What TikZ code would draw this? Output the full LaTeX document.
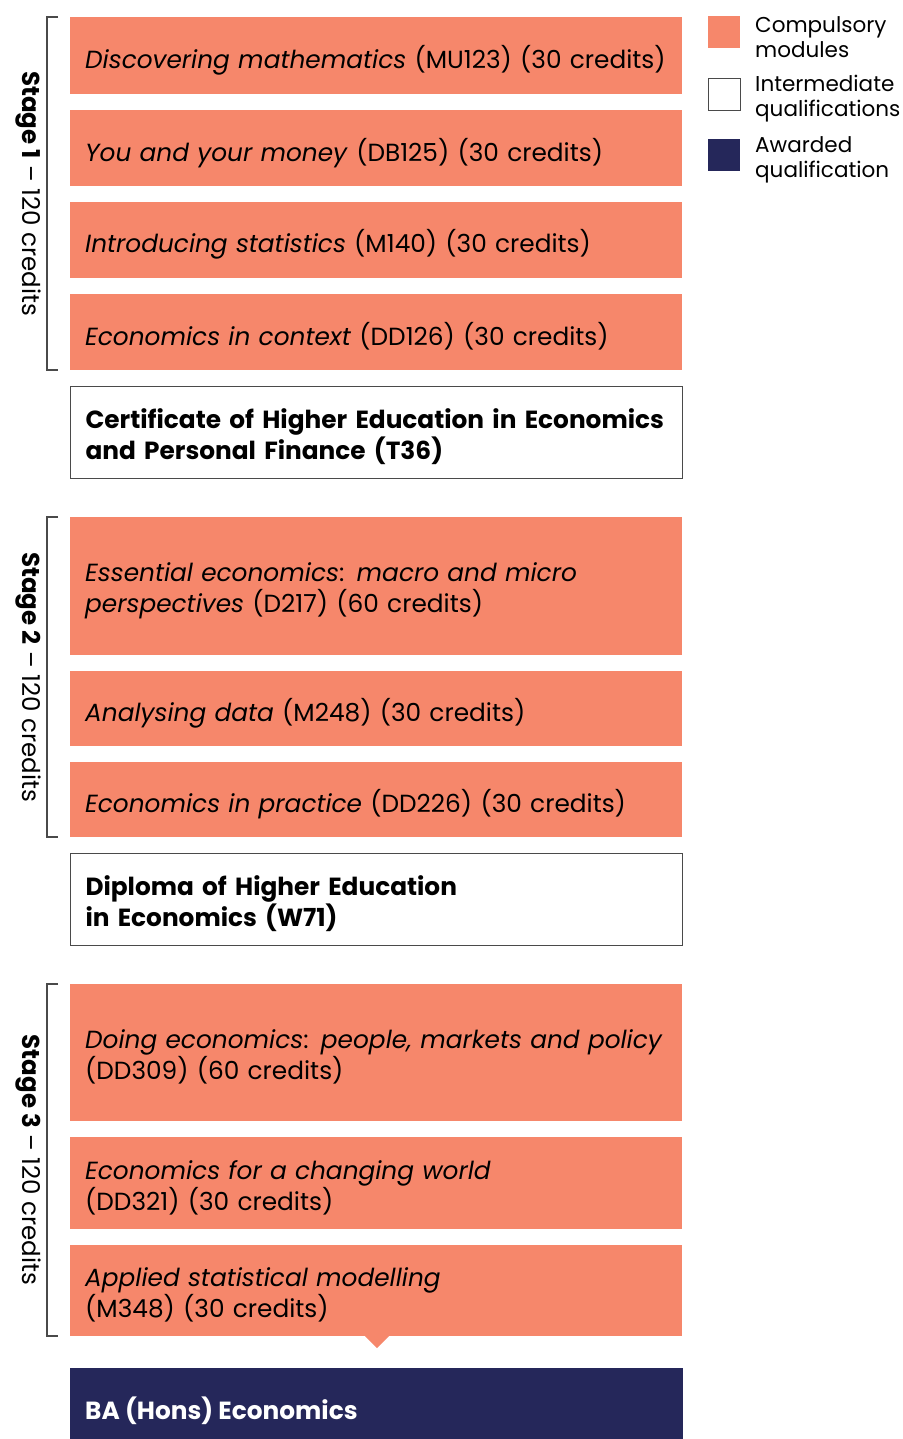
\documentclass[tikz,border=0pt]{standalone}
\usepackage{fontspec}
\setmainfont{Poppins}[BoldFont={Poppins Bold}, BoldItalicFont={Poppins Bold Italic}]
\definecolor{comp}{HTML}{F6876B}
\definecolor{award}{HTML}{25275A}
\definecolor{frame}{HTML}{4A4A4A}
\begin{document}
\begin{tikzpicture}[x=1pt,y=-1pt,
  modbox/.style={fill=comp, draw=none, rectangle, minimum width=612pt, inner sep=0pt, anchor=north west},
  qualbox/.style={fill=white, draw=frame, line width=1pt, rectangle, minimum width=612pt, inner sep=0pt, anchor=north west},
  boxtext/.style={text width=582pt, inner sep=0pt, align=left, font=\fontsize{24.8}{31}\selectfont, anchor=center, yshift=-4.5pt},
  qualtext/.style={boxtext, font=\fontsize{24.8}{31}\selectfont\bfseries},
  bracket/.style={draw=frame, line width=1.2pt},
  stagelbl/.style={rotate=-90, font=\fontsize{24.5}{28}\selectfont, anchor=center},
  legsq/.style={minimum width=32pt, minimum height=32pt, inner sep=0pt, anchor=north west},
  legtxt/.style={font=\fontsize{21.5}{25}\selectfont, align=left, anchor=west, inner sep=0pt}
]
\useasboundingbox (0,0) rectangle (902,1439);
% Stage 1
\node[modbox, minimum height=77pt] (b1) at (70,17) {};
\node[boxtext] (t-b1) at (b1.center) {\textit{Discovering mathematics} (MU123) (30 credits)};
\node[modbox, minimum height=76pt] (b2) at (70,110) {};
\node[boxtext] (t-b2) at (b2.center) {\textit{You and your money} (DB125) (30 credits)};
\node[modbox, minimum height=76pt] (b3) at (70,202) {};
\node[boxtext] (t-b3) at (b3.center) {\textit{Introducing statistics} (M140) (30 credits)};
\node[modbox, minimum height=76pt] (b4) at (70,294) {};
\node[boxtext] (t-b4) at (b4.center) {\textit{Economics in context} (DD126) (30 credits)};
\node[qualbox, minimum height=92pt] (cert) at (70,386) {};
\node[qualtext] (t-cert) at (cert.center) {Certificate of Higher Education in Economics\\and Personal Finance (T36)};
% Stage 2
\node[modbox, minimum height=138pt] (b5) at (70,517) {};
\node[boxtext] (t-b5) at (b5.center) {\textit{Essential economics}: \textit{macro and micro}\\\textit{perspectives} (D217) (60 credits)};
\node[modbox, minimum height=75pt] (b6) at (70,671) {};
\node[boxtext] (t-b6) at (b6.center) {\textit{Analysing data} (M248) (30 credits)};
\node[modbox, minimum height=75pt] (b7) at (70,762) {};
\node[boxtext] (t-b7) at (b7.center) {\textit{Economics in practice} (DD226) (30 credits)};
\node[qualbox, minimum height=92pt] (dipl) at (70,853) {};
\node[qualtext] (t-dipl) at (dipl.center) {Diploma of Higher Education\\in Economics (W71)};
% Stage 3
\node[modbox, minimum height=137pt] (b8) at (70,984) {};
\node[boxtext] (t-b8) at (b8.center) {\textit{Doing economics}: \textit{people, markets and policy}\\(DD309) (60 credits)};
\node[modbox, minimum height=92pt] (b9) at (70,1137) {};
\node[boxtext] (t-b9) at (b9.center) {\textit{Economics for a changing world}\\(DD321) (30 credits)};
\node[modbox, minimum height=91pt] (b10) at (70,1245) {};
\node[boxtext] (t-b10) at (b10.center) {\textit{Applied statistical modelling}\\(M348) (30 credits)};
\coordinate (tip) at (377,1348);
\fill[comp] (365,1336) -- (tip) -- (389,1336) -- cycle;
\fill[award] (70,1368) rectangle (683,1439);
\node[anchor=west, text=white, inner sep=0pt, font=\fontsize{24.8}{31}\selectfont\bfseries] (ba) at (85,1411) {BA (Hons) Economics};
% Brackets
\draw[bracket] (58,17) -- (47,17) -- (47,370) -- (58,370);
\draw[bracket] (58,517) -- (47,517) -- (47,837) -- (58,837);
\draw[bracket] (58,984) -- (47,984) -- (47,1336) -- (58,1336);
\node[stagelbl] (s1) at (28,193.5) {\textbf{Stage 1} -- 120 credits};
\node[stagelbl] (s2) at (28,677) {\textbf{Stage 2} -- 120 credits};
\node[stagelbl] (s3) at (28,1160) {\textbf{Stage 3} -- 120 credits};
% Legend
\node[legsq, fill=comp] (l1) at (708,16) {};
\node[legsq, fill=white, draw=frame, line width=1pt] (l2) at (708,78) {};
\node[legsq, fill=award] (l3) at (708,139) {};
\node[legtxt] (t1) at (755,37.5) {Compulsory\\modules};
\node[legtxt] (t2) at (755,98.5) {Intermediate\\qualifications};
\node[legtxt] (t3) at (755,159.5) {Awarded\\qualification};
\end{tikzpicture}
\end{document}
